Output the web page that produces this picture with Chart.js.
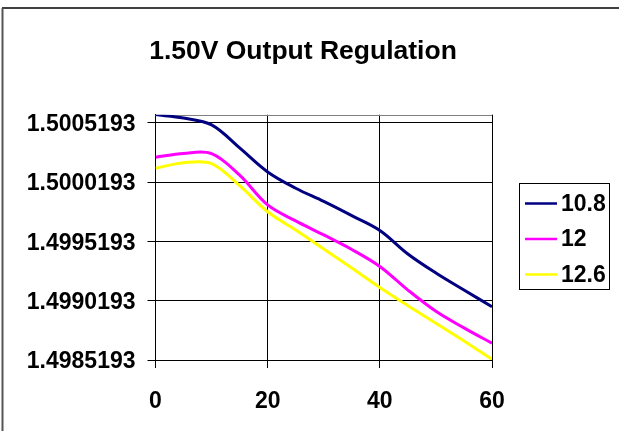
<!DOCTYPE html>
<html>
<head>
<meta charset="utf-8">
<script src="https://cdn.jsdelivr.net/npm/chart.js@4/dist/chart.umd.min.js"></script>
<style>
  html, body { margin: 0; padding: 0; background: #fff; }
  canvas { display: block; }
</style>
</head>
<body>
<canvas id="regChart" width="619" height="431"></canvas>
<script>
// Temperature points (deg C) and output voltage for each input supply
const temps = [0, 5, 10, 15, 20, 25, 30, 35, 40, 45, 50, 55, 60];
const seriesNames = ['10.8', '12', '12.6'];
const v108 = [1.5005877, 1.5005582, 1.5005008, 1.5003069, 1.5001045, 1.4999671, 1.4998558,
              1.4997360, 1.4996112, 1.4994131, 1.4992529, 1.4991095, 1.4989687];
const v12  = [1.5002285, 1.5002605, 1.5002588, 1.5000776, 1.4998263, 1.4996913, 1.4995733,
              1.4994510, 1.4993077, 1.4991087, 1.4989299, 1.4987900, 1.4986601];
const v126 = [1.5001357, 1.5001821, 1.5001753, 1.4999882, 1.4997689, 1.4996146, 1.4994544,
              1.4992942, 1.4991306, 1.4989772, 1.4988288, 1.4986803, 1.4985252];
const yTicks = [1.4985193, 1.4990193, 1.4995193, 1.5000193, 1.5005193];
const xTicks = [0, 20, 40, 60];
const chartTitle = '1.50V Output Regulation';

const COLORS = ['#000080', '#ff00ff', '#ffff00'];
const FONT = "'Liberation Sans', Arial, sans-serif";

function toPoints(values) {
  return values.map((v, i) => ({ x: temps[i], y: v }));
}

// frame, title, plot border and the boxed legend on the right
const decorations = {
  id: 'decorations',
  beforeDatasetsDraw(chart) {
    const { ctx, chartArea: a } = chart;
    ctx.save();
    ctx.strokeStyle = '#808080';
    ctx.lineWidth = 1;
    ctx.beginPath();
    ctx.moveTo(a.left, Math.round(a.top) + 0.5);
    ctx.lineTo(a.right, Math.round(a.top) + 0.5);
    ctx.stroke();
    ctx.restore();
  },
  afterDraw(chart) {
    const { ctx } = chart;
    ctx.save();
    // outer frame
    ctx.strokeStyle = '#000';
    ctx.lineWidth = 1.5;
    ctx.beginPath();
    ctx.moveTo(2, 8);
    ctx.lineTo(619, 8);
    ctx.stroke();
    ctx.strokeStyle = '#555';
    ctx.lineWidth = 2;
    ctx.beginPath();
    ctx.moveTo(2.5, 8);
    ctx.lineTo(2.5, 431);
    ctx.stroke();

    // title
    ctx.fillStyle = '#000';
    ctx.font = 'bold 26.5px ' + FONT;
    ctx.textAlign = 'center';
    ctx.textBaseline = 'middle';
    ctx.fillText(chartTitle, 303, 52);

    // legend
    ctx.strokeStyle = '#000';
    ctx.lineWidth = 1;
    ctx.strokeRect(519.5, 183.5, 90, 106);
    ctx.font = 'bold 23px ' + FONT;
    ctx.textAlign = 'left';
    chart.data.datasets.forEach((ds, i) => {
      const y = 203.5 + i * 35.5;
      ctx.strokeStyle = ds.borderColor;
      ctx.lineWidth = 2.5;
      ctx.beginPath();
      ctx.moveTo(525, y);
      ctx.lineTo(557, y);
      ctx.stroke();
      ctx.fillStyle = '#000';
      ctx.fillText(ds.label, 561, y + 1);
    });
    ctx.restore();
  }
};

new Chart(document.getElementById('regChart'), {
  type: 'line',
  data: {
    datasets: [v108, v12, v126].map((vals, i) => ({
      label: seriesNames[i],
      data: toPoints(vals),
      borderColor: COLORS[i],
      backgroundColor: COLORS[i],
      borderWidth: 3,
      pointRadius: 0,
      tension: 0.35,
      fill: false,
    })),
  },
  options: {
    responsive: false,
    animation: false,
    layout: { padding: { left: 10, right: 127, top: 114.7, bottom: 0 } },
    plugins: {
      legend: { display: false },
      tooltip: { enabled: false },
      title: { display: false },
    },
    scales: {
      x: {
        type: 'linear',
        min: 0,
        max: 60,
        afterBuildTicks: (scale) => { scale.ticks = xTicks.map(v => ({ value: v })); },
        afterFit: (scale) => { scale.height = 71; },
        grid: { color: '#000', lineWidth: 1, drawTicks: true, tickLength: 8 },
        border: { color: '#000', width: 1 },
        ticks: {
          color: '#000',
          padding: 20,
          maxRotation: 0,
          font: { family: FONT, size: 23, weight: 'bold' },
        },
      },
      y: {
        min: 1.4985193,
        max: 1.5005868,
        afterBuildTicks: (scale) => { scale.ticks = yTicks.map(v => ({ value: v })); },
        afterFit: (scale) => { scale.width = 145.5; },
        grid: { color: '#000', lineWidth: 1, drawTicks: true, tickLength: 8 },
        border: { color: '#000', width: 1 },
        ticks: {
          color: '#000',
          padding: 12,
          labelOffset: 2,
          font: { family: FONT, size: 23, weight: 'bold' },
          callback: (v) => Number(v).toFixed(7),
        },
      },
    },
  },
  plugins: [decorations],
});
</script>
</body>
</html>
